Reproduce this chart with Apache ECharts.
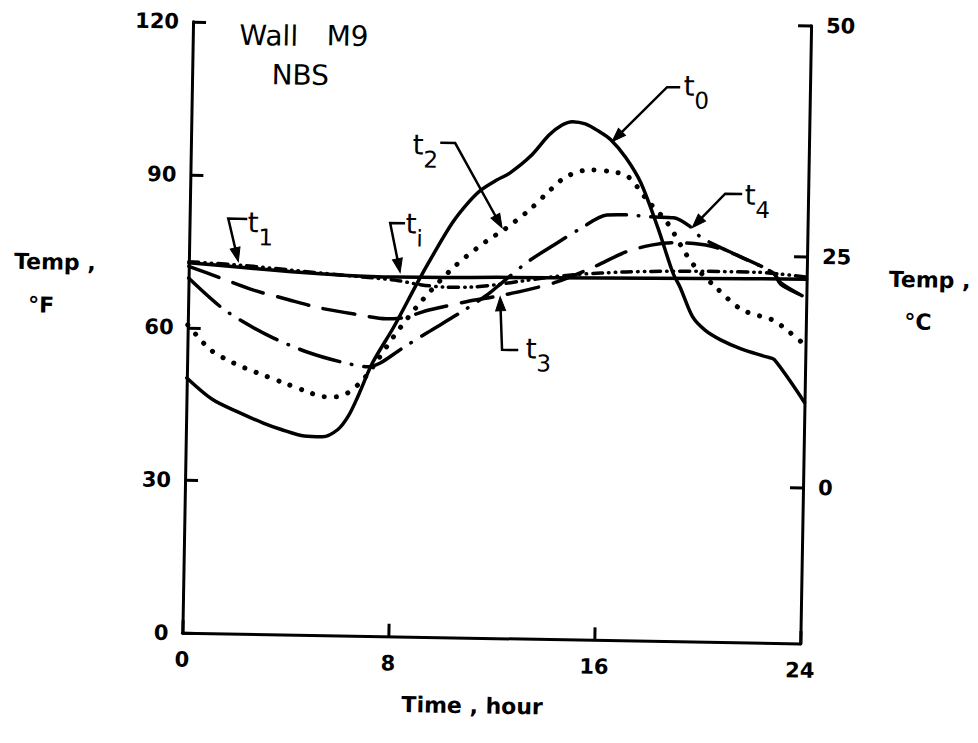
<!DOCTYPE html>
<html>
<head>
<meta charset="utf-8">
<script src="https://cdn.jsdelivr.net/npm/echarts@6/dist/echarts.min.js"></script>
<style>
html,body{margin:0;padding:0;background:#fff;overflow:hidden;}
#chart{width:978px;height:743px;transform:rotate(1deg);transform-origin:489px 371.5px;}
</style>
</head>
<body>
<div id="chart"></div>
<script>
// ---- Data (time in hours, temperature in °F) ----
const xTicks = [0, 8, 16, 24];
const yTicksF = [0, 30, 60, 90, 120];
const yTicksC = [0, 25, 50];

// t0 : outside surface (solid)
const t0Hours = [0, 1, 2, 3, 3.7, 4.6, 5.3, 5.9, 6.3, 6.65, 7.2, 8, 8.9, 9.5, 10.2, 10.8, 11.3, 11.9, 12.4, 13.2, 13.9, 14.4, 14.8, 15.3, 15.8, 16.3, 16.9, 17.5, 18.2, 18.8, 19.1, 19.6, 20.1, 20.7, 21.5, 22.5, 22.8, 24];
const t0Temps = [50.1, 46.0, 43.6, 41.5, 40.3, 39.1, 39.0, 40.5, 43.2, 47.0, 53.7, 60.8, 69.7, 75.3, 81.4, 85.4, 88.0, 90.0, 91.4, 94.8, 99.0, 101.0, 101.7, 101.3, 100.0, 98.3, 94.8, 89.9, 81.0, 72.4, 69.5, 63.8, 61.2, 59.4, 57.7, 56.2, 55.7, 47.4];

// t2 : dotted
const t2Hours = [0, 0.9, 1.8, 2.7, 3.75, 4.7, 5.3, 5.8, 6.25, 6.85, 7.4, 8, 9, 10.3, 11.6, 12.2, 13.2, 14, 14.6, 15.5, 16.4, 17, 17.75, 18.55, 19.2, 19.6, 20.5, 21.5, 22.7, 23.1, 24];
const t2Temps = [60.5, 55.7, 53.2, 51.4, 49.5, 47.8, 46.9, 46.9, 47.7, 50.4, 54.3, 58.9, 65.6, 72.8, 78.2, 80.2, 84.3, 88.3, 90.9, 92.3, 92.0, 91.1, 86.6, 82.2, 76.9, 74.0, 69.6, 65.4, 63.5, 62.2, 58.6];

// t3 : long dash
const t3Hours = [0, 1.2, 2.5, 3.9, 5.1, 6.6, 7.7, 8.3, 9.4, 10.8, 12.1, 13.2, 14.3, 15.7, 17, 18, 18.8, 19.6, 20.4, 21.4, 22.7, 23, 24];
const t3Temps = [72.0, 69.9, 67.6, 65.8, 64.3, 63.1, 62.4, 62.6, 64.3, 66.0, 67.3, 68.6, 70.2, 73.2, 76.4, 77.8, 78.3, 78.2, 77.6, 75.8, 72.7, 70.5, 68.0];

// t4 : dash-dot
const t4Hours = [0, 1.25, 2.15, 3.3, 4.65, 5.95, 7.0, 7.5, 8.3, 9.3, 10.5, 11.6, 12.2, 13.2, 14.3, 15.2, 16.2, 17, 17.9, 18.8, 19.5, 19.85, 20.6, 21.4, 22.7, 23, 24];
const t4Temps = [69.7, 64.2, 61.3, 58.3, 55.6, 53.8, 52.9, 53.7, 56.5, 59.8, 63.6, 67.4, 70.0, 74.2, 77.9, 80.8, 83.5, 83.6, 83.3, 83.2, 81.3, 79.5, 77.6, 75.8, 72.7, 70.8, 67.9];

// t1 : dash-dot-dot (near inside air)
const t1Hours = [0, 2, 4, 6, 8, 9, 10, 11, 12, 13, 14, 15, 16, 17, 18, 20, 22, 23, 24];
const t1Temps = [72.9, 72.4, 71.6, 70.8, 70.0, 69.2, 68.8, 68.9, 69.5, 70.3, 71.1, 71.7, 72.1, 72.4, 72.6, 72.8, 72.8, 72.5, 72.0];

// ti : inside air (solid)
const tiHours = [0, 2, 4, 6, 8, 10, 12, 16, 20, 24];
const tiTemps = [72.7, 72.0, 71.3, 70.8, 70.6, 70.7, 70.9, 71.1, 71.4, 71.6];

// Annotation leaders (hour, °F)
const leaderSubs   = ['0', '1', 'i', '2', '3', '4'];
const leaderTips   = [[16.35, 97.9], [1.92, 73.1], [8.21, 71.5], [12.14, 80.6], [12.11, 67.1], [19.52, 81.3]];
const leaderElbows = [[18.45, 108.8], [1.50, 81.5], [7.79, 81.2], [10.26, 97.1], [12.22, 56.7], [20.78, 88.1]];
const leaderEnds   = [[18.96, 108.8], [2.24, 81.5], [8.37, 81.2], [9.68, 97.1], [12.85, 56.7], [21.44, 88.1]];
const labelTPos    = [[19.31, 109.1], [2.47, 80.8], [8.61, 81.1], [8.82, 96.6], [13.35, 57.0], [21.75, 87.9]];

const titleWords = ['Wall', 'M9', 'NBS'];
const titlePos = [[2.95, 117.5], [6.01, 117.7], [4.2, 109.9]];

// ---- Chart ----
const zip = (xs, ys) => xs.map((x, i) => [x, ys[i]]);
const FONT = "'DejaVu Sans', sans-serif";
const chart = echarts.init(document.getElementById('chart'), null, {renderer: 'svg'});

const axisLine = {show: true, onZero: false, lineStyle: {color: '#000', width: 3}};
const tick = {show: true, inside: true, length: 13, lineStyle: {color: '#000', width: 3}};
const lbl = {color: '#000', fontFamily: FONT, fontWeight: 'bold', fontSize: 21};

function lineSeries(name, xs, ys, type, width, z) {
  return {
    name, type: 'line', xAxisIndex: 0, yAxisIndex: 0,
    data: zip(xs, ys), showSymbol: false, symbol: 'none', smooth: 0.3,
    lineStyle: {color: '#000', width, type, cap: 'round', join: 'round'},
    z, silent: true
  };
}

chart.setOption({
  animation: false,
  backgroundColor: '#fff',
  grid: [
    {left: 187, right: 173, top: 27, bottom: 104.5},
    {left: 187, right: 173, top: 20.2, bottom: 104.5}
  ],
  xAxis: [
    {type: 'value', gridIndex: 0, min: 0, max: 24, interval: 8,
     axisLine, axisTick: tick, splitLine: {show: false},
     axisLabel: Object.assign({}, lbl, {margin: 16, customValues: xTicks})},
    {type: 'value', gridIndex: 1, min: 0, max: 24, show: false}
  ],
  yAxis: [
    {type: 'value', gridIndex: 0, min: 0, max: 120, interval: 30, position: 'left',
     axisLine, axisTick: tick, splitLine: {show: false},
     axisLabel: Object.assign({}, lbl, {margin: 14, customValues: yTicksF})},
    {type: 'value', gridIndex: 1, min: -16.9, max: 50, position: 'right',
     axisLine, axisTick: Object.assign({}, tick, {customValues: yTicksC}), splitLine: {show: false},
     axisLabel: Object.assign({}, lbl, {margin: 15, customValues: yTicksC})}
  ],
  series: [
    lineSeries('ti', tiHours, tiTemps, 'solid', 3.5, 3),
    lineSeries('t1', t1Hours, t1Temps, [10, 6, 0.5, 6, 0.5, 6], 3.5, 3),
    lineSeries('t3', t3Hours, t3Temps, [32, 15], 3.5, 4),
    lineSeries('t4', t4Hours, t4Temps, [42, 12, 0.5, 12], 3.5, 4),
    lineSeries('t2', t2Hours, t2Temps, [0.1, 12], 5, 5),
    lineSeries('t0', t0Hours, t0Temps, 'solid', 3.5, 6)
  ]
});

function px(p) { return chart.convertToPixel({xAxisIndex: 0, yAxisIndex: 0}, p); }

const graphics = [];
leaderTips.forEach((tipD, i) => {
  const tip = px(tipD), elbow = px(leaderElbows[i]), end = px(leaderEnds[i]);
  const dx = tip[0] - elbow[0], dy = tip[1] - elbow[1];
  const len = Math.hypot(dx, dy), ux = dx / len, uy = dy / len;
  const L = 14, W = 5;
  const base = [tip[0] - ux * L, tip[1] - uy * L];
  graphics.push({type: 'polyline', shape: {points: [end, elbow, [tip[0] - ux * 8, tip[1] - uy * 8]]},
    style: {stroke: '#000', lineWidth: 2.5, fill: null, lineJoin: 'miter'}, z: 20});
  graphics.push({type: 'polygon', shape: {points: [tip, [base[0] - uy * W, base[1] + ux * W], [base[0] + uy * W, base[1] - ux * W]]},
    style: {fill: '#000', stroke: '#000', lineWidth: 1}, z: 20});
  const tp = px(labelTPos[i]);
  graphics.push({type: 'text', x: tp[0] - 5.5, y: tp[1] + 6, z: 20,
    style: {
      text: '{t|t}{s|' + leaderSubs[i] + '}',
      align: 'left', verticalAlign: 'middle', fill: '#000',
      rich: {
        t: {fontSize: 28, fontFamily: FONT, fill: '#000', verticalAlign: 'top', lineHeight: 28},
        s: {fontSize: 23, fontFamily: FONT, fill: '#000', verticalAlign: 'bottom', lineHeight: 40}
      }
    }});
});
titleWords.forEach((w, i) => {
  const p = px(titlePos[i]);
  graphics.push({type: 'text', x: p[0], y: p[1], z: 20,
    style: {text: w, font: "28px " + FONT, fill: '#000', align: 'center', verticalAlign: 'middle'}});
});
const axisTitles = [
  ['Temp ,', 53, 269.6], ['°F', 40, 312.8],
  ['Temp ,', 928, 272.3], ['°C', 917, 314.5],
  ['Time , hour', 478, 706]
];
axisTitles.forEach(a => {
  graphics.push({type: 'text', x: a[1], y: a[2], z: 20,
    style: {text: a[0], font: "bold 22px " + FONT, fill: '#000', align: 'center', verticalAlign: 'middle'}});
});
chart.setOption({graphic: graphics});
</script>
</body>
</html>
